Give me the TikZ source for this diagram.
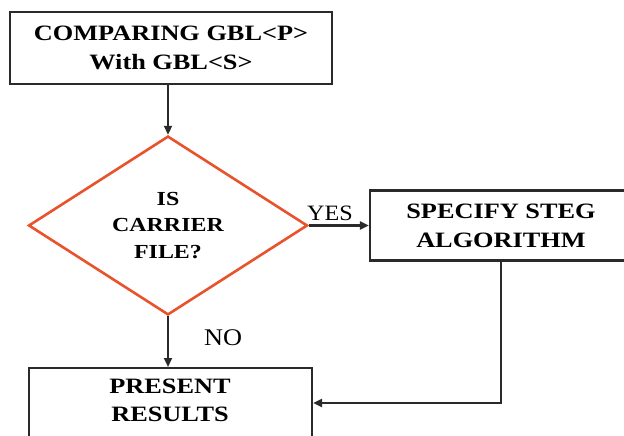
\documentclass[tikz,border=0pt]{standalone}
\usepackage{fontspec}
\setmainfont{Liberation Serif}
\newfontfamily\wideserif{Liberation Serif}[FakeStretch=1.2]
\newfontfamily\midserif{Liberation Serif}[FakeStretch=1.1]
\usetikzlibrary{shapes.geometric,arrows.meta,calc}
\definecolor{lineblack}{HTML}{2A2A2A}
\definecolor{diamondred}{HTML}{E8532B}
\tikzset{
  procbox/.style={draw=lineblack, line width=2.2bp, inner sep=0pt, align=center,
    font=\wideserif\bfseries\fontsize{22}{29}\selectfont},
  decision/.style={diamond, draw=diamondred, line width=2.6bp, inner sep=0pt, align=center,
    minimum width=279bp, minimum height=175bp,
    font=\wideserif\bfseries\fontsize{20}{27}\selectfont},
  boxtext/.style={align=center, inner sep=0pt,
    font=\wideserif\bfseries\fontsize{22}{28}\selectfont},
  conn/.style={draw=lineblack, line width=2.2bp, -{Triangle[length=9bp,width=8bp]}},
  edgelabel/.style={inner sep=0pt, font=\midserif\fontsize{22}{26}\selectfont},
}
\begin{document}
\begin{tikzpicture}[x=1bp,y=-1bp]
\path[use as bounding box] (0,0) rectangle (624,436);
\clip (0,0) rectangle (624,436);
\fill[white] (0,0) rectangle (624,436);
\node[procbox, minimum width=322bp, minimum height=72bp] (compare) at (171,48)
  {COMPARING GBL<P>\\With GBL<S>};
\node[decision] (carrier) at (168,225.5) {IS\\CARRIER\\FILE?};
\node[procbox, minimum width=262bp, minimum height=70bp] (spec) at (501,225.5)
  {SPECIFY STEG\\ALGORITHM};
\node[procbox, minimum width=283bp, minimum height=100bp, anchor=north] (present) at (170.5,367) {};
\node[boxtext] (presenttxt) at (170,400) {PRESENT\\RESULTS};
\draw[conn] (compare.south -| carrier.north) -- (carrier.north);
\draw[conn] (carrier.east) -- (spec.west);
\draw[conn] (carrier.south) -- (present.north -| carrier.south);
\draw[conn] (spec.south) |- ($(present.north east)+(0,36)$);
\node[edgelabel, anchor=south west] (yes) at (307,221) {YES};
\node[edgelabel, anchor=west] (no) at (204,338) {\fontsize{24}{26}\selectfont NO};
\end{tikzpicture}
\end{document}
